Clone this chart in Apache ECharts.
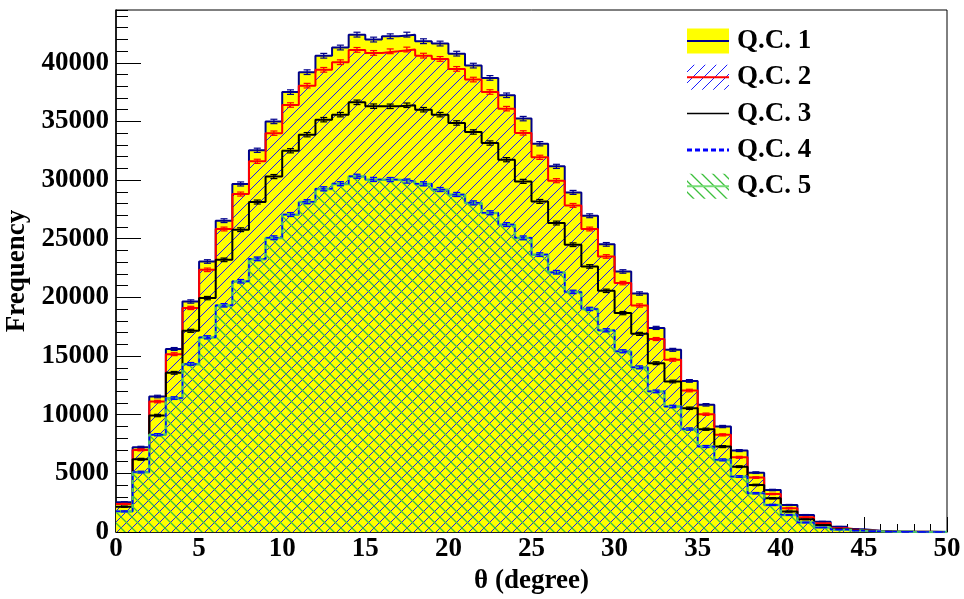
<!DOCTYPE html>
<html>
<head>
<meta charset="utf-8">
<script src="https://cdn.jsdelivr.net/npm/echarts@6/dist/echarts.min.js"></script>
<style>
  html, body { margin: 0; padding: 0; background: #fff; }
  #chart { width: 964px; height: 599px; }
</style>
</head>
<body>
<div id="chart"></div>
<script>
// Histogram of polar angle theta, 50 bins of 1 degree from 0 to 50.
var binEdges = [0, 50];
var xTicks = [0, 5, 10, 15, 20, 25, 30, 35, 40, 45, 50];
var yTicks = [0, 5000, 10000, 15000, 20000, 25000, 30000, 35000, 40000];
var seriesNames = ['Q.C. 1', 'Q.C. 2', 'Q.C. 3', 'Q.C. 4', 'Q.C. 5'];

var qc1 = [2530, 7220, 11550, 15600, 19650, 23060, 26540, 29670, 32540, 35000,
           37500, 39200, 40600, 41300, 42400, 41980, 42260, 42400, 41840, 41640,
           40780, 39760, 38710, 37230, 35240, 33100, 31170, 28950, 26960, 24520,
           22210, 20330, 17400, 15530, 12880, 10840, 8990, 6940, 5060, 3580,
           2300, 1450, 880, 450, 230, 110, 50, 30, 20, 10];
var qc2 = [2390, 7000, 11120, 15160, 19100, 22350, 25830, 28810, 31600, 34000,
           36400, 38050, 39400, 40050, 41100, 40840, 40980, 41130, 40610, 40330,
           39480, 38570, 37510, 36090, 34020, 31940, 29950, 27840, 25830, 23490,
           21220, 19310, 16450, 14680, 12060, 10040, 8280, 6370, 4640, 3240,
           2020, 1250, 740, 320, 160, 80, 40, 20, 15, 8];
var qc3 = [2160, 6200, 9930, 13570, 17150, 19940, 23200, 25770, 28130, 30300,
           32500, 33870, 35150, 35580, 36630, 36300, 36290, 36380, 36000, 35580,
           34870, 34100, 33160, 31740, 29890, 28180, 26340, 24490, 22640, 20560,
           18660, 16890, 14390, 12830, 10550, 8760, 7280, 5570, 4010, 2870,
           1740, 1080, 600, 250, 140, 70, 30, 15, 10, 5];
var qc4 = [1760, 5110, 8300, 11420, 14330, 16600, 19330, 21380, 23290, 25090,
           27070, 28160, 29260, 29700, 30330, 30060, 30050, 29920, 29690, 29200,
           28780, 28060, 27220, 26210, 25080, 23650, 22150, 20470, 19020, 17200,
           15410, 14040, 11990, 10700, 8780, 7290, 6150, 4730, 3310, 2310,
           1460, 810, 390, 205, 115, 62, 26, 13, 8, 4];
var qc5 = [1740, 5090, 8280, 11400, 14300, 16580, 19300, 21360, 23260, 25060,
           27050, 28130, 29240, 29670, 30300, 30030, 30030, 29890, 29660, 29180,
           28750, 28040, 27190, 26190, 25060, 23630, 22130, 20450, 19000, 17180,
           15390, 14020, 11970, 10690, 8760, 7280, 6140, 4720, 3300, 2300,
           1450, 800, 380, 200, 110, 60, 25, 12, 8, 4];

var FONT = 'Liberation Serif';

// Hatch tiles: diagonal lines repeating every `s` pixels.
function hatch(color, dir, s, lw) {
  var c = document.createElement('canvas');
  c.width = s; c.height = s;
  var g = c.getContext('2d');
  g.strokeStyle = color;
  g.lineWidth = lw;
  g.beginPath();
  if (dir === '/') {
    g.moveTo(-2, s + 2); g.lineTo(s + 2, -2);
    g.moveTo(-2, 2); g.lineTo(2, -2);
    g.moveTo(s - 2, s + 2); g.lineTo(s + 2, s - 2);
  } else {
    g.moveTo(-2, -2); g.lineTo(s + 2, s + 2);
    g.moveTo(s - 2, -2); g.lineTo(s + 2, 2);
    g.moveTo(-2, s - 2); g.lineTo(2, s + 2);
  }
  g.stroke();
  return c;
}
var blueHatch = hatch('#1a1aff', '/', 11, 1);
var greenHatch = hatch('#3cc03c', '\\', 11, 1.3);

// Step outline points: one per bin start plus the closing edge.
function stepData(vals) {
  var out = [];
  for (var i = 0; i < vals.length; i++) out.push([binEdges[0] + i, vals[i]]);
  out.push([binEdges[0] + vals.length, vals[vals.length - 1]]);
  return out;
}
function centerData(vals) {
  return vals.map(function (v, i) { return [binEdges[0] + i + 0.5, v]; });
}

function histSeries(name, vals, lineColor, lineType, width, area) {
  var s = {
    name: name, type: 'line', step: 'end', data: stepData(vals),
    symbol: 'none', silent: true,
    lineStyle: { color: lineColor, width: width, type: lineType },
    z: 2
  };
  if (area) s.areaStyle = { color: area, opacity: 1, origin: 'start' };
  return s;
}

function errSeries(vals, color) {
  return {
    type: 'custom', data: centerData(vals), silent: true, z: 3,
    renderItem: function (params, api) {
      var x = api.value(0), v = api.value(1);
      var e = Math.sqrt(v);
      var top = api.coord([x, v + e]);
      var bot = api.coord([x, Math.max(0, v - e)]);
      var st = { stroke: color, lineWidth: 1.2 };
      return {
        type: 'group',
        children: [
          { type: 'line', shape: { x1: top[0], y1: top[1], x2: bot[0], y2: bot[1] }, style: st },
          { type: 'line', shape: { x1: top[0] - 3.5, y1: top[1], x2: top[0] + 3.5, y2: top[1] }, style: st },
          { type: 'line', shape: { x1: bot[0] - 3.5, y1: bot[1], x2: bot[0] + 3.5, y2: bot[1] }, style: st }
        ]
      };
    }
  };
}

var C1 = '#00008b', C2 = '#ff0000', C3 = '#000000', C4 = '#0000ff', C5 = '#4cbf6a';

var series = [
  histSeries(seriesNames[0], qc1, C1, 'solid', 2, '#ffff00'),
  errSeries(qc1, C1),
  histSeries(seriesNames[1], qc2, C2, 'solid', 2, { image: blueHatch, repeat: 'repeat' }),
  errSeries(qc2, C2),
  histSeries(seriesNames[2], qc3, C3, 'solid', 2, null),
  errSeries(qc3, C3),
  histSeries(seriesNames[4], qc5, C5, 'solid', 2.5, { image: greenHatch, repeat: 'repeat' }),
  errSeries(qc5, C5),
  histSeries(seriesNames[3], qc4, C4, [4, 4], 1.5, null),
  errSeries(qc4, C4)
];

// Legend drawn as graphic boxes to reproduce the fill styles.
var legX = 687, legW = 42, legH = 25, legY0 = 41, legDY = 36.3;
var legendGraphics = [];
var legStyles = [
  { fill: '#ffff00', line: C1, dash: null, lw: 2 },
  { fill: { image: blueHatch, repeat: 'repeat' }, line: C2, dash: null, lw: 2 },
  { fill: null, line: C3, dash: null, lw: 1.5 },
  { fill: null, line: C4, dash: [5, 3], lw: 3 },
  { fill: { image: greenHatch, repeat: 'repeat' }, line: '#77dd77', dash: null, lw: 2 }
];
legStyles.forEach(function (st, i) {
  var cy = legY0 + i * legDY;
  if (st.fill) {
    legendGraphics.push({ type: 'rect', shape: { x: legX, y: cy - legH / 2, width: legW, height: legH },
      style: { fill: st.fill, stroke: null } });
  }
  legendGraphics.push({ type: 'line', shape: { x1: legX, y1: cy, x2: legX + legW, y2: cy },
    style: { stroke: st.line, lineWidth: st.lw, lineDash: st.dash } });
  legendGraphics.push({ type: 'text', x: 737, y: cy,
    style: { text: seriesNames[i], font: 'bold 27px "' + FONT + '"', fill: '#000',
      textVerticalAlign: 'middle', verticalAlign: 'middle' } });
});

var chart = echarts.init(document.getElementById('chart'), null, { renderer: 'canvas' });
chart.setOption({
  animation: false,
  backgroundColor: '#fff',
  grid: { left: 116, right: 17, top: 10, bottom: 67, containLabel: false, outerBoundsMode: 'none',
          show: true, borderColor: '#000', borderWidth: 1, backgroundColor: 'transparent' },
  xAxis: {
    type: 'value', min: xTicks[0], max: xTicks[xTicks.length - 1], interval: xTicks[1] - xTicks[0],
    name: 'θ (degree)', nameLocation: 'middle', nameGap: 32,
    nameTextStyle: { fontFamily: FONT, fontWeight: 'bold', fontSize: 27, color: '#000' },
    axisLine: { lineStyle: { color: '#000', width: 1.5 } },
    axisTick: { inside: true, length: 15, lineStyle: { color: '#000', width: 1 } },
    minorTick: { show: true, splitNumber: 5, length: 8, lineStyle: { color: '#000', width: 1 } },
    axisLabel: { fontFamily: FONT, fontWeight: 'bold', fontSize: 27, color: '#000', margin: 4,
                 formatter: function (v) { return String(v); } },
    splitLine: { show: false }
  },
  yAxis: [{
    type: 'value', min: yTicks[0], max: 44500, interval: yTicks[1] - yTicks[0],
    name: 'Frequency', nameLocation: 'middle', nameGap: 77,
    nameTextStyle: { fontFamily: FONT, fontWeight: 'bold', fontSize: 27, color: '#000' },
    axisLine: { show: true, lineStyle: { color: '#000', width: 1.5 } },
    axisTick: { inside: true, length: 25, lineStyle: { color: '#000', width: 1 } },
    axisLabel: { fontFamily: FONT, fontWeight: 'bold', fontSize: 27, color: '#000', margin: 7, showMaxLabel: false,
                 formatter: function (v) { return yTicks.indexOf(v) >= 0 ? String(v) : ''; } },
    splitLine: { show: false }
  }, {
    type: 'value', min: yTicks[0], max: 44500, interval: 1000, position: 'left',
    axisLine: { show: false },
    axisTick: { inside: true, length: 12, lineStyle: { color: '#000', width: 1 } },
    axisLabel: { show: false },
    splitLine: { show: false }
  }],
  series: series,
  graphic: legendGraphics
});
</script>
</body>
</html>
